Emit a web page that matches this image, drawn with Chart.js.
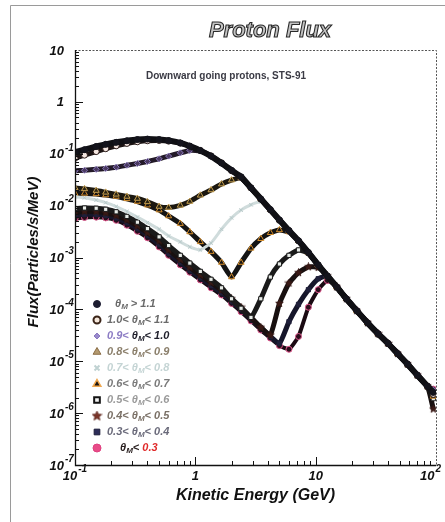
<!DOCTYPE html>
<html>
<head>
<meta charset="utf-8">
<script src="https://cdn.jsdelivr.net/npm/chart.js@4.4.1/dist/chart.umd.min.js"></script>
<style>
  html, body { margin: 0; padding: 0; background: #fff; }
  #wrap { position: relative; width: 445px; height: 522px; }
</style>
</head>
<body>
<div id="wrap"><canvas id="flux" width="445" height="522"></canvas></div>
<script>
// Kinetic energy grid (GeV) shared by every latitude bin
const energyGeV = [0.1, 0.12, 0.15, 0.18, 0.22, 0.27, 0.33, 0.4, 0.5, 0.6,
  0.75, 0.9, 1.1, 1.35, 1.65, 2.0, 2.4, 2.9, 3.5, 4.2,
  5.0, 6.0, 7.2, 8.7, 10.5, 12.5, 15, 18, 22, 27,
  33, 40, 48, 58, 70, 85, 95];

// Proton flux per geomagnetic latitude bin (particles/s/MeV)
const fluxAbove11 = [0.108, 0.12, 0.138, 0.152, 0.166, 0.178, 0.188, 0.192, 0.188, 0.18,
  0.162, 0.14, 0.115, 0.09, 0.066, 0.048, 0.036, 0.022, 0.0135, 0.0084,
  0.0053, 0.0033, 0.0021, 0.00125, 7.2e-4, 4.4e-4, 2.7e-4, 1.6e-4, 9.4e-5, 5.5e-5,
  3.4e-5, 2.2e-5, 1.4e-5, 8.8e-6, 5.4e-6, 3.3e-6, 2.5e-6];
const flux10to11 = [0.082, 0.094, 0.11, 0.125, 0.142, 0.158, 0.17, 0.178, 0.18, 0.175,
  0.16, 0.14, 0.116, 0.091, 0.067, 0.047, 0.035, 0.022, 0.0133, 0.0083,
  0.0052, 0.0033, 0.0021, 0.00124, 7.1e-4, 4.4e-4, 2.65e-4, 1.6e-4, 9.3e-5, 5.5e-5,
  3.3e-5, 2.2e-5, 1.4e-5, 8.6e-6, 5.3e-6, 3.2e-6, 2.3e-6];
const flux09to10 = [0.047, 0.048, 0.05, 0.052, 0.055, 0.06, 0.065, 0.071, 0.08, 0.09,
  0.104, 0.116, 0.114, 0.09, 0.066, 0.047, 0.035, 0.0215, 0.0134, 0.0082,
  0.0054, 0.0032, 0.0021, 0.00126, 7.3e-4, 4.3e-4, 2.7e-4, 1.6e-4, 9.5e-5, 5.4e-5,
  3.4e-5, 2.2e-5, 1.4e-5, 8.8e-6, 5.5e-6, 3.3e-6, 2.8e-6];
const flux08to09 = [0.022, 0.021, 0.0195, 0.018, 0.0165, 0.015, 0.0137, 0.0118, 0.0096, 0.0092,
  0.0101, 0.012, 0.0158, 0.02, 0.026, 0.031, 0.034, 0.022, 0.0135, 0.0084,
  0.0053, 0.0033, 0.0021, 0.00125, 7.2e-4, 4.4e-4, 2.7e-4, 1.6e-4, 9.4e-5, 5.5e-5,
  3.4e-5, 2.2e-5, 1.4e-5, 8.8e-6, 5.4e-6, 3.3e-6, 2.3e-6];
const flux07to08 = [0.0148, 0.0142, 0.0128, 0.0114, 0.0096, 0.0077, 0.006, 0.0047, 0.0035, 0.0026,
  0.002, 0.0016, 0.0014, 0.0019, 0.0035, 0.0058, 0.0082, 0.0104, 0.0118, 0.0083,
  0.0053, 0.0033, 0.0021, 0.00125, 7.2e-4, 4.4e-4, 2.7e-4, 1.6e-4, 9.4e-5, 5.5e-5,
  3.4e-5, 2.2e-5, 1.4e-5, 8.8e-6, 5.4e-6, 3.3e-6, 2.6e-6];
const flux06to07 = [0.017, 0.0172, 0.0168, 0.016, 0.015, 0.0135, 0.012, 0.0102, 0.0082, 0.0063,
  0.0045, 0.0031, 0.002, 0.0013, 8e-4, 4.2e-4, 8e-4, 0.0015, 0.0023, 0.003,
  0.0034, 0.0031, 0.0021, 0.00124, 7.2e-4, 4.4e-4, 2.7e-4, 1.6e-4, 9.4e-5, 5.5e-5,
  3.4e-5, 2.2e-5, 1.4e-5, 8.8e-6, 5.4e-6, 3.3e-6, 2.1e-6];
const flux05to06 = [0.0088, 0.009, 0.0089, 0.0085, 0.0076, 0.0062, 0.0048, 0.0036, 0.0025, 0.0017,
  0.0011, 7.8e-4, 5.4e-4, 3.8e-4, 2.6e-4, 1.6e-4, 1.05e-4, 7e-5, 1.6e-4, 4.2e-4,
  7.5e-4, 0.0011, 0.0014, 0.0012, 7.2e-4, 4.4e-4, 2.7e-4, 1.6e-4, 9.4e-5, 5.5e-5,
  3.4e-5, 2.2e-5, 1.4e-5, 8.8e-6, 5.4e-6, 3.3e-6, 1.9e-6];
const flux04to05 = [0.0075, 0.0078, 0.0077, 0.0073, 0.0065, 0.0053, 0.0041, 0.003, 0.0021, 0.0014,
  9.2e-4, 6.5e-4, 4.6e-4, 3.3e-4, 2.35e-4, 1.6e-4, 1.1e-4, 7e-5, 4.5e-5, 3.2e-5,
  1.3e-4, 3.2e-4, 5.1e-4, 6.6e-4, 6.4e-4, 4.4e-4, 2.7e-4, 1.6e-4, 9.4e-5, 5.5e-5,
  3.4e-5, 2.2e-5, 1.4e-5, 8.8e-6, 5.4e-6, 3.3e-6, 1.2e-6];
const flux03to04 = [0.0064, 0.0068, 0.0068, 0.0065, 0.0058, 0.0047, 0.0036, 0.0027, 0.0018, 0.0012,
  8e-4, 5.7e-4, 4.1e-4, 2.9e-4, 2.1e-4, 1.45e-4, 1e-4, 6.6e-5, 4.4e-5, 3e-5,
  2.2e-5, 5.8e-5, 1.25e-4, 2.4e-4, 3.9e-4, 4.4e-4, 2.7e-4, 1.6e-4, 9.4e-5, 5.5e-5,
  3.4e-5, 2.2e-5, 1.4e-5, 8.8e-6, 5.4e-6, 3.3e-6, 2.4e-6];
const fluxBelow03 = [0.0056, 0.0059, 0.006, 0.0058, 0.0052, 0.0042, 0.0032, 0.0024, 0.0016, 0.0011,
  7.2e-4, 5.2e-4, 3.7e-4, 2.6e-4, 1.9e-4, 1.3e-4, 9e-5, 6e-5, 4e-5, 2.8e-5,
  2e-5, 1.7e-5, 3e-5, 1.1e-4, 2.4e-4, 3.6e-4, 2.7e-4, 1.6e-4, 9.4e-5, 5.5e-5,
  3.4e-5, 2.2e-5, 1.4e-5, 8.8e-6, 5.4e-6, 3.3e-6, 2.9e-6];

const binLabels = ['θ_M > 1.1', '1.0< θ_M< 1.1', '0.9< θ_M< 1.0', '0.8< θ_M< 0.9', '0.7< θ_M< 0.8',
  '0.6< θ_M< 0.7', '0.5< θ_M< 0.6', '0.4< θ_M< 0.5', '0.3< θ_M< 0.4', 'θ_M< 0.3'];

const xTickValues = [0.1, 1, 10, 100];
const xTickLabels = ['10^-1', '1', '10', '10^2'];
const yTickValues = [10, 1, 0.1, 0.01, 0.001, 1e-4, 1e-5, 1e-6, 1e-7];
const yTickLabels = ['10', '1', '10^-1', '10^-2', '10^-3', '10^-4', '10^-5', '10^-6', '10^-7'];

const seriesFlux = [fluxAbove11, flux10to11, flux09to10, flux08to09, flux07to08,
  flux06to07, flux05to06, flux04to05, flux03to04, fluxBelow03];

const FONT = '"Liberation Sans", Arial, sans-serif';

// small filled five-point star used as a marker image
function starImage(size, fill, edge) {
  const c = document.createElement('canvas');
  c.width = size; c.height = size;
  const g = c.getContext('2d');
  const cx = size / 2, cy = size / 2, ro = size / 2 - 0.5, ri = ro * 0.45;
  g.beginPath();
  for (let i = 0; i < 10; i++) {
    const r = i % 2 ? ri : ro;
    const a = -Math.PI / 2 + i * Math.PI / 5;
    g.lineTo(cx + r * Math.cos(a), cy + r * Math.sin(a));
  }
  g.closePath();
  g.fillStyle = fill; g.fill();
  g.strokeStyle = edge; g.lineWidth = 0.8; g.stroke();
  return c;
}

// marker and band look of each latitude bin on the plot
const looks = [
  { style: 'circle',   r: 3,   fill: '#14141c', edge: '#14141c', line: '#101014', lw: 6 },
  { style: 'circle',   r: 3,   fill: '#f4e6e0', edge: '#2a1a18', line: '#1c1414', lw: 5 },
  { style: 'rectRot',  r: 3,   fill: '#4a3a60', edge: '#8e7cc0', line: '#231a28', lw: 5 },
  { style: 'triangle', r: 3.5, fill: '#2a2414', edge: '#c8a050', line: '#1c1810', lw: 5 },
  { style: 'crossRot', r: 2.5, fill: '#c4d4d4', edge: '#b8caca', line: '#d0dcdc', lw: 3 },
  { style: 'triangle', r: 3.5, fill: '#151515', edge: '#d8902e', line: '#141414', lw: 5 },
  { style: 'rect',     r: 3,   fill: '#e8ece8', edge: '#1a1a1a', line: '#1a1a1a', lw: 5 },
  { style: starImage(9, '#3a1a16', '#3a1a16'), r: 4, fill: '#3a1a16', edge: '#3a1a16', line: '#181010', lw: 5 },
  { style: 'rect',     r: 3,   fill: '#20203a', edge: '#20203a', line: '#16162a', lw: 5 },
  { style: 'circle',   r: 3,   fill: '#2a0e1c', edge: '#e0588e', line: '#1a0a12', lw: 4 }
];

// legend marker look of each latitude bin
const legendLooks = [
  { style: 'circle',   r: 3.5, fill: '#1c1c30', edge: '#1c1c30', bw: 1 },
  { style: 'circle',   r: 3.5, fill: '#f6e8dc', edge: '#3a2418', bw: 2 },
  { style: 'rectRot',  r: 3,   fill: '#9a8acc', edge: '#8a78c0', bw: 1 },
  { style: 'triangle', r: 4.5, fill: '#b49a70', edge: '#8a6c44', bw: 1 },
  { style: 'crossRot', r: 3.5, fill: '#c8d8d8', edge: '#c0d2d2', bw: 2 },
  { style: 'triangle', r: 4.5, fill: '#1a1410', edge: '#f0a850', bw: 1.5 },
  { style: 'rect',     r: 4,   fill: '#f4f4f4', edge: '#141414', bw: 2 },
  { style: starImage(11, '#7a3428', '#5a2218'), r: 5, fill: '#7a3428', edge: '#5a2218', bw: 1 },
  { style: 'rect',     r: 4,   fill: '#2c2c58', edge: '#1c1c3a', bw: 1 },
  { style: 'circle',   r: 4,   fill: '#e84c88', edge: '#e04080', bw: 1 }
];
const legendTextColors = [
  ['#6a6a6a'], ['#6a6a6a'], ['#8c7cc4', '#1e1e2a', '#1e1e2a'], ['#8a7e6a'], ['#c4d4d4'],
  ['#7a7a7a'], ['#9a9a9a'], ['#7a7066'], ['#6a6a7a'], ['#2a2020', '#e02a2a']
];

const datasets = seriesFlux.map((flux, i) => ({
  label: binLabels[i],
  data: energyGeV.map((e, k) => ({ x: e, y: flux[k] })),
  showLine: true,
  borderColor: looks[i].line,
  borderWidth: looks[i].lw,
  tension: 0.15,
  pointStyle: looks[i].style,
  pointRadius: looks[i].r,
  pointBackgroundColor: looks[i].fill,
  pointBorderColor: looks[i].edge,
  pointBorderWidth: 1
}));

function splitPow(label) {
  const p = label.split('^');
  return { base: p[0], exp: p[1] || '' };
}

function drawPowLabel(ctx, label, x, y, mode) {
  const { base, exp } = splitPow(label);
  const baseFont = `italic bold 13px ${FONT}`;
  const expFont = `italic bold 10px ${FONT}`;
  ctx.font = baseFont;
  const wb = ctx.measureText(base).width;
  ctx.font = expFont;
  const we = exp ? ctx.measureText(exp).width + 1 : 0;
  let bx;
  if (mode === 'y') {
    bx = x - wb;
  } else {
    bx = x - (wb + we) / 2;
    if (bx + wb + we > 441) bx = 441 - wb - we;
  }
  ctx.textBaseline = 'middle';
  ctx.textAlign = 'left';
  ctx.font = baseFont;
  ctx.fillText(base, bx, y);
  if (exp) {
    ctx.font = expFont;
    ctx.fillText(exp, bx + wb + 1, y - 7);
  }
}

function drawBinLabel(ctx, text, x, y, colors) {
  const px = 11;
  const main = `italic bold ${px}px ${FONT}`;
  const sub = `italic bold ${Math.round(px * 0.7)}px ${FONT}`;
  ctx.textBaseline = 'middle';
  ctx.textAlign = 'left';
  let cx = x;
  text.split(' ').forEach((tok, i) => {
    ctx.fillStyle = colors[Math.min(i, colors.length - 1)];
    const parts = tok.split('_');
    ctx.font = main;
    ctx.fillText(parts[0], cx, y);
    cx += ctx.measureText(parts[0]).width;
    if (parts.length > 1) {
      const s = parts[1].charAt(0), rest = parts[1].slice(1);
      ctx.font = sub;
      ctx.fillText(s, cx, y + 3);
      cx += ctx.measureText(s).width;
      ctx.font = main;
      ctx.fillText(rest, cx, y);
      cx += ctx.measureText(rest).width;
    }
    ctx.font = main;
    cx += ctx.measureText(' ').width;
  });
}

function drawMarker(ctx, look, x, y) {
  ctx.save();
  ctx.fillStyle = look.fill;
  ctx.strokeStyle = look.edge;
  ctx.lineWidth = look.bw;
  Chart.helpers.drawPoint(ctx, { pointStyle: look.style, radius: look.r, rotation: 0, borderWidth: look.bw }, x, y);
  ctx.restore();
}

const decorations = {
  id: 'decorations',
  beforeDraw(chart) {
    const ctx = chart.ctx;
    ctx.save();
    ctx.fillStyle = '#ffffff';
    ctx.fillRect(0, 0, chart.width, chart.height);
    // outer sheet border
    ctx.strokeStyle = '#9a9a9a';
    ctx.lineWidth = 1;
    ctx.beginPath();
    ctx.moveTo(10.5, chart.height);
    ctx.lineTo(10.5, 5.5);
    ctx.lineTo(chart.width, 5.5);
    ctx.stroke();
    ctx.restore();
  },
  afterDraw(chart) {
    const ctx = chart.ctx;
    const a = chart.chartArea;
    const xs = chart.scales.x, ys = chart.scales.y;
    ctx.save();

    // frame: dotted top/right, solid axes left/bottom
    ctx.strokeStyle = '#555';
    ctx.lineWidth = 1;
    ctx.setLineDash([2, 1.5]);
    ctx.beginPath();
    ctx.moveTo(a.left, a.top + 0.5);
    ctx.lineTo(a.right + 0.5, a.top + 0.5);
    ctx.lineTo(a.right + 0.5, a.bottom);
    ctx.stroke();
    ctx.setLineDash([]);
    ctx.strokeStyle = '#111';
    ctx.lineWidth = 1.3;
    ctx.beginPath();
    ctx.moveTo(a.left + 0.5, a.top);
    ctx.lineTo(a.left + 0.5, a.bottom + 0.5);
    ctx.lineTo(a.right, a.bottom + 0.5);
    ctx.stroke();

    // inward ticks: long at each decade, short at 2..9
    ctx.lineWidth = 1;
    ctx.beginPath();
    for (let e = -1; e < 2; e++) {
      for (let k = 1; k < 10; k++) {
        const v = k * Math.pow(10, e);
        const px = Math.round(xs.getPixelForValue(v)) + 0.5;
        const len = k === 1 ? 8 : 4;
        ctx.moveTo(px, a.bottom);
        ctx.lineTo(px, a.bottom - len);
      }
    }
    for (let e = -7; e < 1; e++) {
      for (let k = 1; k < 10; k++) {
        const v = k * Math.pow(10, e);
        const py = Math.round(ys.getPixelForValue(v)) + 0.5;
        const len = k === 1 ? 8 : 4;
        ctx.moveTo(a.left, py);
        ctx.lineTo(a.left + len, py);
      }
    }
    ctx.stroke();

    // tick labels
    ctx.fillStyle = '#111';
    xTickValues.forEach((v, i) => drawPowLabel(ctx, xTickLabels[i], xs.getPixelForValue(v), a.bottom + 11, 'x'));
    yTickValues.forEach((v, i) => drawPowLabel(ctx, yTickLabels[i], a.left - 11, ys.getPixelForValue(v) + 1, 'y'));

    // axis titles
    ctx.fillStyle = '#111';
    ctx.textAlign = 'center';
    ctx.textBaseline = 'middle';
    ctx.font = `italic bold 16px ${FONT}`;
    ctx.fillText('Kinetic Energy (GeV)', (a.left + a.right) / 2, 496);
    ctx.save();
    ctx.translate(34, 252);
    ctx.rotate(-Math.PI / 2);
    ctx.font = `italic bold 15px ${FONT}`;
    ctx.fillText('Flux(Particles/s/MeV)', 0, 0);
    ctx.restore();

    // title, outlined lettering
    ctx.font = `italic bold 22px ${FONT}`;
    ctx.textAlign = 'center';
    ctx.fillStyle = '#c4c4c4';
    ctx.fillText('Proton Flux', 270, 31);
    ctx.strokeStyle = '#2a2a2a';
    ctx.lineWidth = 1.1;
    ctx.strokeText('Proton Flux', 270, 31);

    // caption inside the frame
    ctx.font = `bold 10px ${FONT}`;
    ctx.fillStyle = '#3a3a44';
    ctx.fillText('Downward going protons, STS-91', 226, 76);

    // legend
    binLabels.forEach((lab, i) => {
      const y = 304 + 16 * i;
      drawMarker(ctx, legendLooks[i], 97, y);
      const tx = i === 0 ? 115 : (i === binLabels.length - 1 ? 120 : 107);
      drawBinLabel(ctx, lab, tx, y, legendTextColors[i]);
    });

    ctx.restore();
  }
};

new Chart(document.getElementById('flux'), {
  type: 'scatter',
  data: { datasets },
  options: {
    responsive: false,
    animation: false,
    devicePixelRatio: 1,
    layout: { padding: { left: 75, top: 50, right: 9, bottom: 57 } },
    plugins: { legend: { display: false }, tooltip: { enabled: false }, title: { display: false } },
    scales: {
      x: { type: 'logarithmic', min: 0.1, max: 100, display: false },
      y: { type: 'logarithmic', min: 1e-7, max: 10, display: false }
    }
  },
  plugins: [decorations]
});
</script>
</body>
</html>
